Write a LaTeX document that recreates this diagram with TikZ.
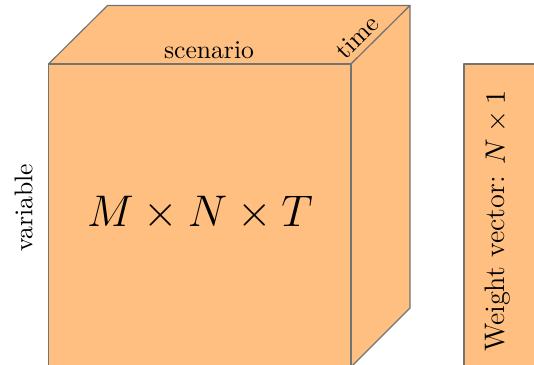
\documentclass[tikz,border=0pt]{standalone}
\begin{document}
\begin{tikzpicture}[x=0.39pt,y=-0.39pt,
  face/.style={fill=orange!50, draw=black!55, line width=0.45pt, line join=round},
  lbl/.style={inner sep=0pt, font=\normalsize}]
\useasboundingbox (0,0) rectangle (534,364);
% cube corners
\coordinate (fa) at (48.5,64);
\coordinate (fb) at (351,64);
\coordinate (fc) at (351,367);
\coordinate (fd) at (48.5,367);
\coordinate (ba) at (107.5,5.5);
\coordinate (bb) at (410,5.5);
\coordinate (bc) at (410,308);
% faces
\path[face] (fa) -- (ba) -- (bb) -- (fb) -- cycle;
\path[face] (fb) -- (bb) -- (bc) -- (fc) -- cycle;
\path[face] (fa) -- (fb) -- (fc) -- (fd) -- cycle;
% weight vector
\coordinate (wa) at (464,64);
\coordinate (wc) at (545,372);
\path[face] (wa) rectangle (wc);
% labels
\node[lbl] (scen) at (209,50) {scenario};
\node[lbl, rotate=45] (time) at (357,37) {time};
\node[lbl, rotate=90] (var) at (23.5,208) {variable};
\node[lbl, font=\LARGE] (mnt) at (200,213) {$M\times N\times T$};
\node[lbl, rotate=90, font=\fontsize{11}{13}\selectfont] (wv) at (498,221) {Weight vector: $N\times 1$};
\end{tikzpicture}
\end{document}
